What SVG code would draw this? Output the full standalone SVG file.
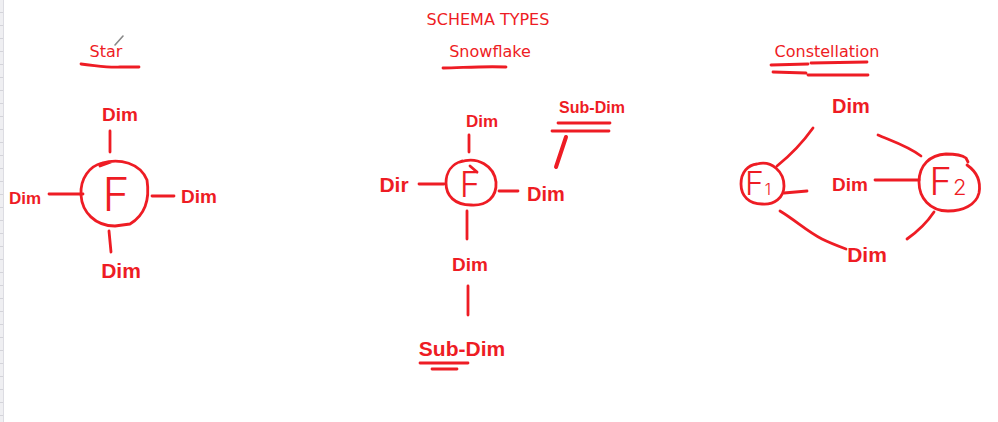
<svg xmlns="http://www.w3.org/2000/svg" width="998" height="422" viewBox="0 0 998 422">
<defs>
<style>
.ink{fill:none;stroke:#ee1c24;stroke-width:2.8;stroke-linecap:round;stroke-linejoin:round}
.thick{stroke-width:4}
.hd{font-family:"DejaVu Sans",sans-serif;font-size:16px;fill:#ee1c24}
.hw{font-family:"Liberation Sans",Arial,sans-serif;font-weight:bold;fill:#ee1c24;text-anchor:middle}
.fl{font-family:"Inter","Lato","DejaVu Sans",sans-serif;font-weight:300;fill:#ee1c24;text-anchor:middle}
</style>
<pattern id="rows" x="0" y="0" width="4" height="13" patternUnits="userSpaceOnUse">
<rect width="4" height="13" fill="#efeff2"/>
<rect y="12" width="4" height="1" fill="#d4d4da"/>
</pattern>
</defs>
<rect width="998" height="422" fill="#ffffff"/>
<rect x="0" y="0" width="3" height="422" fill="url(#rows)"/>
<line x1="3.5" y1="0" x2="3.5" y2="422" stroke="#dcdce2" stroke-width="1"/>
<line x1="115" y1="45" x2="123" y2="36" stroke="#888" stroke-width="1.6" stroke-linecap="round"/>

<g id="title">
<text class="hd" x="488" y="25" text-anchor="middle">SCHEMA TYPES</text>
</g>

<g id="headings">
<text class="hd" x="106" y="57" text-anchor="middle">Star</text>
<path class="ink" d="M81 64 C100 66 110 68 120 67 L139 67"/>
<text class="hd" x="490" y="57" text-anchor="middle">Snowflake</text>
<path class="ink" d="M443 68 C460 68 480 66 506 67"/>
<text class="hd" x="827" y="57" text-anchor="middle">Constellation</text>
<path class="ink" d="M771 65 L808 64 M811 63 L867 62 M773 72 L806 73 M808 75 L868 75"/>
</g>

<g id="star-fact">
<path class="ink" d="M102 163 C120 158 140 163 147 180 C150 200 145 215 130 224 L115 226 C95 226 82 212 81 195 C80 178 90 166 102 163 Z M100 166 L111 162"/>
<text class="fl" x="116" y="211" font-size="46">F</text>
</g>
<g id="star-dim-top"><text class="hw" x="120" y="121" font-size="19">Dim</text></g>
<g id="star-dim-left"><text class="hw" x="25" y="204" font-size="17">Dim</text></g>
<g id="star-dim-right"><text class="hw" x="199" y="203" font-size="19">Dim</text></g>
<g id="star-dim-bottom"><text class="hw" x="121" y="278" font-size="21">Dim</text></g>

<g id="snow-fact">
<path class="ink" d="M460 162 C478 156 494 166 496 182 C497 197 487 206 471 205 C455 205 446 196 446 183 C446 172 452 164 462 161 M470 166 L477 172"/>
<text class="fl" x="470" y="197" font-size="35">F</text>
</g>
<g id="snow-dim-top"><text class="hw" x="482" y="127" font-size="17">Dim</text></g>
<g id="snow-dim-left"><text class="hw" x="394" y="192" font-size="21">Dir</text></g>
<g id="snow-dim-right"><text class="hw" x="546" y="201" font-size="20">Dim</text></g>
<g id="snow-dim-bottom"><text class="hw" x="470" y="271" font-size="19">Dim</text></g>
<g id="snow-subdim-top">
<text class="hw" x="592" y="113" font-size="16">Sub-Dim</text>
<path class="ink" d="M558 123 L610 123 M552 131 L609 131"/>
</g>
<g id="snow-subdim-bottom">
<text class="hw" x="462" y="356" font-size="21">Sub-Dim</text>
<path class="ink" d="M420 363 L468 363 M432 369 L457 369"/>
</g>

<g id="const-f1">
<path class="ink" d="M757 164 C772 160 784 172 784 186 C784 198 774 205 762 204 C749 204 741 196 741 184 C741 172 748 165 757 164 Z"/>
<text class="fl" x="758" y="195" font-size="32">F<tspan font-size="16" dx="1">1</tspan></text>
</g>
<g id="const-f2">
<path class="ink" d="M967 165 C977 172 981 182 979 193 C976 205 963 211 948 211 C930 211 919 198 919 182 C919 165 930 155 946 154 C955 154 962 155 966 158 L968 162"/>
<text class="fl" x="948" y="195" font-size="38">F<tspan font-size="22" dx="1">2</tspan></text>
</g>
<g id="const-dim-top"><text class="hw" x="851" y="113" font-size="20">Dim</text></g>
<g id="const-dim-mid"><text class="hw" x="850" y="191" font-size="19">Dim</text></g>
<g id="const-dim-bottom"><text class="hw" x="867" y="262" font-size="21">Dim</text></g>

<g id="connectors">
<line class="ink" x1="110" y1="131" x2="110" y2="152"/>
<line class="ink" x1="49" y1="194" x2="83" y2="194"/>
<line class="ink" x1="152" y1="196" x2="174" y2="196"/>
<line class="ink" x1="109" y1="231" x2="111" y2="252"/>

<line class="ink" x1="469" y1="135" x2="469" y2="152"/>
<line class="ink" x1="419" y1="184" x2="444" y2="184"/>
<line class="ink" x1="499" y1="191" x2="518" y2="191"/>
<line class="ink" x1="467" y1="211" x2="467" y2="239"/>
<line class="ink" x1="468" y1="286" x2="468" y2="315"/>
<line class="ink thick" x1="566" y1="137" x2="556" y2="167"/>

<path class="ink" d="M777 166 C792 154 803 142 813 128"/>
<path class="ink" d="M878 135 C892 141 908 146 921 156"/>
<path class="ink" d="M784 193 L807 191"/>
<path class="ink" d="M875 180 L919 180"/>
<path class="ink" d="M780 211 C795 220 808 232 822 239 C830 243 838 246 846 249"/>
<path class="ink" d="M934 212 C926 224 917 232 907 239"/>
</g>
</svg>
